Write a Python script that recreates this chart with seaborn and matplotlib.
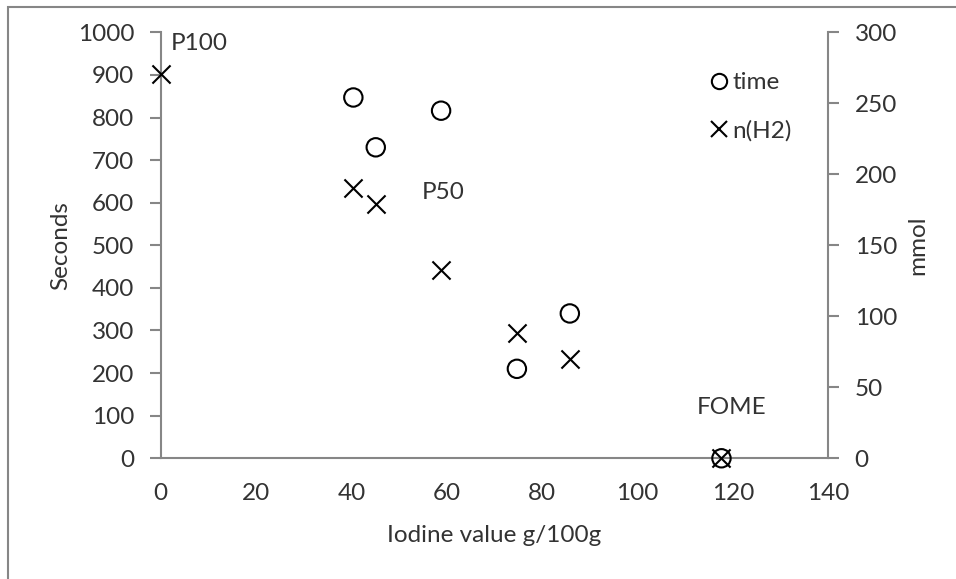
import matplotlib
matplotlib.use("Agg")
import matplotlib.pyplot as plt
from matplotlib.lines import Line2D
from matplotlib.patches import Rectangle
import numpy as np
import pandas as pd
import seaborn as sns

# Iodine value of each sample (g/100g)
iodine_time = [40.4, 45.1, 58.8, 74.7, 85.8, 117.6]
time_s = [847, 730, 816, 210, 340, 0]

iodine_h2 = [0.0, 40.4, 45.1, 58.8, 74.7, 85.8, 117.6]
n_h2_mmol = [270.6, 190.1, 178.9, 132.6, 88.0, 69.9, 0]

left_ticks = list(range(0, 1001, 100))
right_ticks = list(range(0, 301, 50))
x_ticks = list(range(0, 141, 20))

# point labels: (text, x, mmol, offset in pixels)
point_labels = [
    ("P100", 0.0, 270.6, (39, 31)),
    ("P50", 58.8, 132.6, (2, 77)),
    ("FOME", 117.6, 0, (10, 51)),
]

sns.set_theme(style="white")
plt.rcParams["font.family"] = ["Lato", "DejaVu Sans"]

TXT = "#333333"
AX = "#868686"
FS = 17.5

fig = plt.figure(figsize=(9.56, 5.79), dpi=100)
ax = fig.add_axes([0.1681, 0.2085, 0.8664 - 0.1681, 0.9442 - 0.2085])
ax2 = ax.twinx()

time_df = pd.DataFrame({"iodine": iodine_time, "time": time_s})
h2_df = pd.DataFrame({"iodine": iodine_h2, "n_h2": n_h2_mmol})

sns.scatterplot(data=time_df, x="iodine", y="time", ax=ax, marker="o",
                s=175, facecolor="none", edgecolor="black", linewidth=1.5,
                zorder=3, clip_on=False, legend=False)
sns.scatterplot(data=h2_df, x="iodine", y="n_h2", ax=ax2, marker="x",
                s=170, color="black", linewidth=1.5,
                zorder=3, clip_on=False, legend=False)

ax.set_xlim(0, 140)
ax.set_ylim(0, 1000)
ax2.set_ylim(0, 300)
ax.set_xticks(x_ticks)
ax.set_yticks(left_ticks)
ax2.set_yticks(right_ticks)

for a in (ax, ax2):
    a.spines["top"].set_visible(False)
    for sp in a.spines.values():
        sp.set_color(AX)
        sp.set_linewidth(1.5)
    a.tick_params(colors=AX, labelcolor=TXT, labelsize=FS, length=8,
                  width=1.5, pad=11, direction="out")
ax.spines["right"].set_visible(False)
ax2.spines["left"].set_visible(False)
ax2.spines["bottom"].set_visible(False)
ax.tick_params(axis="x", pad=10)

ax.set_xlabel("Iodine value g/100g", fontsize=FS, color=TXT, labelpad=15)
ax.set_ylabel("Seconds", fontsize=FS, color=TXT, labelpad=5)
ax2.set_ylabel("mmol", fontsize=FS, color=TXT, labelpad=7)

for text, x, y, off in point_labels:
    ax2.annotate(text, xy=(x, y), xytext=off, textcoords="offset pixels",
                 ha="center", va="center", fontsize=FS, color=TXT)

handles = [
    Line2D([], [], ls="none", marker="o", mfc="none", mec="black",
           mew=1.5, ms=11),
    Line2D([], [], ls="none", marker="x", color="black", mew=1.5, ms=11),
]
ax2.legend(handles, ["time", "n(H2)"], loc="upper left",
           bbox_to_anchor=(697 / 956, 1 - 60 / 579),
           bbox_transform=fig.transFigure, frameon=False, fontsize=FS,
           handlelength=0.8, handletextpad=0.15, labelspacing=1.1,
           borderpad=0, labelcolor=TXT)

# outer chart area border
fig.patches.append(Rectangle((7.5 / 956, -0.1), 1.2, 1.1 - 6.7 / 579,
                             transform=fig.transFigure, fill=False,
                             edgecolor=AX, linewidth=1.5))

fig.savefig("out.png", dpi=100)
